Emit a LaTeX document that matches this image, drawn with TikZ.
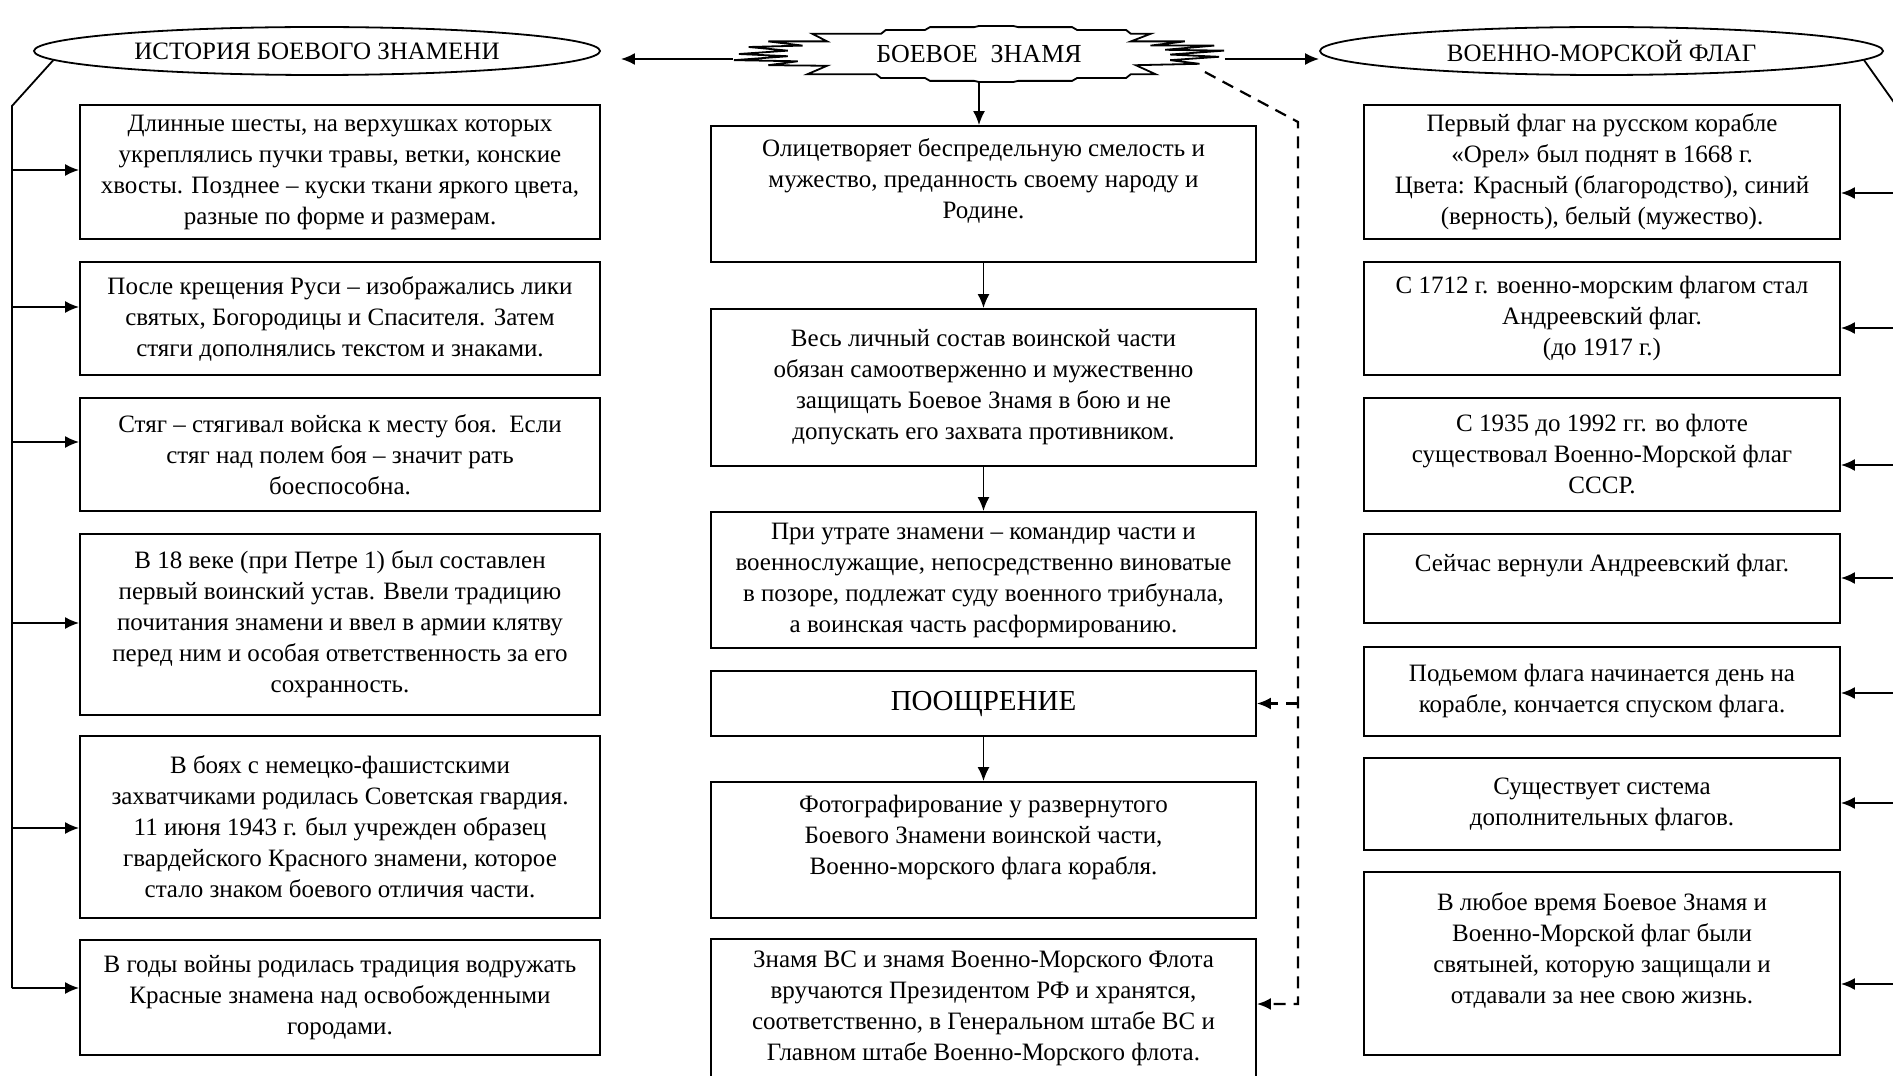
\documentclass[tikz,border=0pt]{standalone}
\usepackage{fontspec}
\setmainfont{Liberation Serif}
\usetikzlibrary{arrows.meta,shapes.geometric}
\begin{document}
\begin{tikzpicture}[x=0.5pt,y=-0.5pt,
  bx/.style={draw, line width=0.9pt, inner sep=0pt, align=center, font=\fontsize{12.5}{15.5}\selectfont},
  lbx/.style={bx, minimum width=260pt},
  mbx/.style={bx, minimum width=272.5pt},
  rbx/.style={bx, minimum width=238pt},
  hdr/.style={draw, ellipse, line width=0.9pt, inner sep=0pt, minimum width=283pt, minimum height=24pt, font=\fontsize{12.5}{14}\selectfont},
  arr/.style={line width=0.9pt, -{Latex[length=7pt,width=6pt]}},
  rail/.style={line width=0.9pt},
  dsh/.style={line width=1.1pt, dash pattern=on 6pt off 4pt},
]
\useasboundingbox (0,0) rectangle (1893,1075);
\clip (0,0) rectangle (1893,1075);
\fill[white] (0,0) rectangle (1893,1075);

% headers
\node[hdr] (hist) at (317,51) {ИСТОРИЯ БОЕВОГО ЗНАМЕНИ};
\node[hdr, minimum width=281.5pt] (nav) at (1601.5,51) {ВОЕННО-МОРСКОЙ ФЛАГ};

\begin{scope}[shift={(979,54)}, xscale=245, yscale=28]
\draw[line width=0.9pt, fill=white]
 (-0.68,-0.72) -- (-0.40,-0.72) -- (-0.38,-0.86) -- (-0.22,-0.86) -- (-0.20,-0.96) -- (-0.02,-0.96) -- (0.00,-1.0) -- (0.14,-1.0) -- (0.16,-0.96) -- (0.38,-0.96) -- (0.40,-0.86) -- (0.60,-0.86) -- (0.62,-0.72) -- (0.70,-0.72)
 -- (0.62,-0.45) -- (0.84,-0.45) -- (0.70,-0.30) -- (0.96,-0.30) -- (0.76,-0.15) -- (1.00,-0.12) -- (0.78,0.02) -- (0.98,0.10) -- (0.78,0.22) -- (0.90,0.35) -- (0.64,0.40)
 -- (0.72,0.72) -- (0.62,0.72) -- (0.60,0.86) -- (0.40,0.86) -- (0.38,0.96) -- (0.16,0.96) -- (0.14,1.0) -- (0.00,1.0) -- (-0.02,0.96) -- (-0.20,0.96) -- (-0.22,0.86) -- (-0.40,0.86) -- (-0.42,0.72) -- (-0.70,0.72)
 -- (-0.62,0.42) -- (-0.86,0.40) -- (-0.74,0.26) -- (-1.0,0.22) -- (-0.78,0.08) -- (-0.98,0.0) -- (-0.78,-0.12) -- (-0.94,-0.25) -- (-0.72,-0.30) -- (-0.86,-0.45) -- (-0.62,-0.45) -- cycle;
\end{scope}
\node[inner sep=0pt, minimum width=245.5pt, minimum height=28pt, font=\fontsize{13}{15}\selectfont] (star) at (979,54) {БОЕВОЕ\ \ ЗНАМЯ};

% left column
\node[lbx, minimum height=67pt] (L1) at (340,172) {Длинные шесты, на верхушках которых\\укреплялись пучки травы, ветки, конские\\хвосты. Позднее – куски ткани яркого цвета,\\разные по форме и размерам.};
\node[lbx, minimum height=56.5pt] (L2) at (340,318.5) {После крещения Руси – изображались лики\\святых, Богородицы и Спасителя. Затем\\стяги дополнялись текстом и знаками.};
\node[lbx, minimum height=56.5pt] (L3) at (340,454.5) {Стяг – стягивал войска к месту боя.\ \ Если\\стяг над полем боя – значит рать\\боеспособна.};
\node[lbx, minimum height=90.5pt] (L4) at (340,624.5) {В 18 веке (при Петре 1) был составлен\\первый воинский устав. Ввели традицию\\почитания знамени и ввел в армии клятву\\перед ним и особая ответственность за его\\сохранность.};
\node[lbx, minimum height=91pt] (L5) at (340,827) {В боях с немецко-фашистскими\\захватчиками родилась Советская гвардия.\\11 июня 1943 г. был учрежден образец\\гвардейского Красного знамени, которое\\стало знаком боевого отличия части.};
\node[lbx, minimum height=57.5pt] (L6) at (340,997.5) {В годы войны родилась традиция водружать\\Красные знамена над освобожденными\\городами.};

% middle column
\node[mbx, minimum height=68pt] (M1) at (983.5,194) {Олицетворяет беспредельную смелость и\\мужество, преданность своему народу и\\Родине.\\\mbox{}};
\node[mbx, minimum height=78.5pt] (M2) at (983.5,387.5) {Весь личный состав воинской части\\обязан самоотверженно и мужественно\\защищать Боевое Знамя в бою и не\\допускать его захвата противником.};
\node[mbx, minimum height=68pt] (M3) at (983.5,580) {При утрате знамени – командир части и\\военнослужащие, непосредственно виноватые\\в позоре, подлежат суду военного трибунала,\\а воинская часть расформированию.};
\node[mbx, minimum height=32.5pt, font=\fontsize{14.5}{16}\selectfont] (M4) at (983.5,703.5) {ПООЩРЕНИЕ};
\node[mbx, minimum height=68pt] (M5) at (983.5,850) {Фотографирование у развернутого\\Боевого Знамени воинской части,\\Военно-морского флага корабля.\\\mbox{}};
\node[mbx, minimum height=69.5pt] (M6) at (983.5,1008.5) {Знамя ВС и знамя Военно-Морского Флота\\вручаются Президентом РФ и хранятся,\\соответственно, в Генеральном штабе ВС и\\Главном штабе Военно-Морского флота.};

% right column
\node[rbx, minimum height=67pt] (R1) at (1602,172) {Первый флаг на русском корабле\\«Орел» был поднят в 1668 г.\\Цвета: Красный (благородство), синий\\(верность), белый (мужество).};
\node[rbx, minimum height=56.5pt] (R2) at (1602,318.5) {С 1712 г. военно-морским флагом стал\\Андреевский флаг.\\(до 1917 г.)};
\node[rbx, minimum height=56.5pt] (R3) at (1602,454.5) {С 1935 до 1992 гг. во флоте\\существовал Военно-Морской флаг\\СССР.};
\node[rbx, minimum height=44.5pt] (R4) at (1602,578.5) {Сейчас вернули Андреевский флаг.\\\mbox{}};
\node[rbx, minimum height=44.5pt] (R5) at (1602,691.5) {Подьемом флага начинается день на\\корабле, кончается спуском флага.};
\node[rbx, minimum height=46pt] (R6) at (1602,804) {Существует система\\дополнительных флагов.};
\node[rbx, minimum height=91.5pt] (R7) at (1602,963.5) {В любое время Боевое Знамя и\\Военно-Морской флаг были\\святыней, которую защищали и\\отдавали за нее свою жизнь.\\\mbox{}};

% header arrows
\draw[arr, shorten >=10pt] ([yshift=-2.5pt]star.west) -- ([yshift=-2.5pt]star.west -| hist.east);
\draw[arr] ([yshift=-2.5pt]star.east) -- ([yshift=-2.5pt]star.east -| nav.west);

% middle chain
\draw[arr] (star.south) -- (star.south |- M1.north);
\draw[arr] (M1.south) -- (M2.north);
\draw[arr] (M2.south) -- (M3.north);
\draw[arr] (M4.south) -- (M5.north);

% left rail
\coordinate (ltop) at (12,106);
\coordinate (lbot) at (12,988);
\draw[rail] (hist.182) -- (ltop) -- (lbot);
\foreach \n/\yy in {L1/170,L2/307,L3/442,L4/623,L5/828,L6/988}
  \draw[arr] (12,\yy) -- (\n.west |- 12,\yy);

% right rail
\coordinate (rtop) at (1910,125);
\coordinate (rbot) at (1910,990);
\draw[rail] (nav.358) -- (rtop) -- (rbot);
\foreach \n/\yy in {R1/193,R2/328,R3/465,R4/578,R5/693,R6/803,R7/984}
  \draw[arr] (1910,\yy) -- (\n.east |- 1910,\yy);

% dashed link
\coordinate (dA) at ([xshift=-10pt,yshift=-9pt]star.east);
\coordinate (dB) at (1298,122);
\coordinate (dC) at (1298,1004);
\draw[dsh, -{Latex[length=7pt,width=6pt]}] (dA) -- (dB) -- (dC) -- (dC -| M6.east);
\draw[dsh, -{Latex[length=7pt,width=6pt]}] (dB |- M4.east) -- (M4.east);
\end{tikzpicture}
\end{document}
